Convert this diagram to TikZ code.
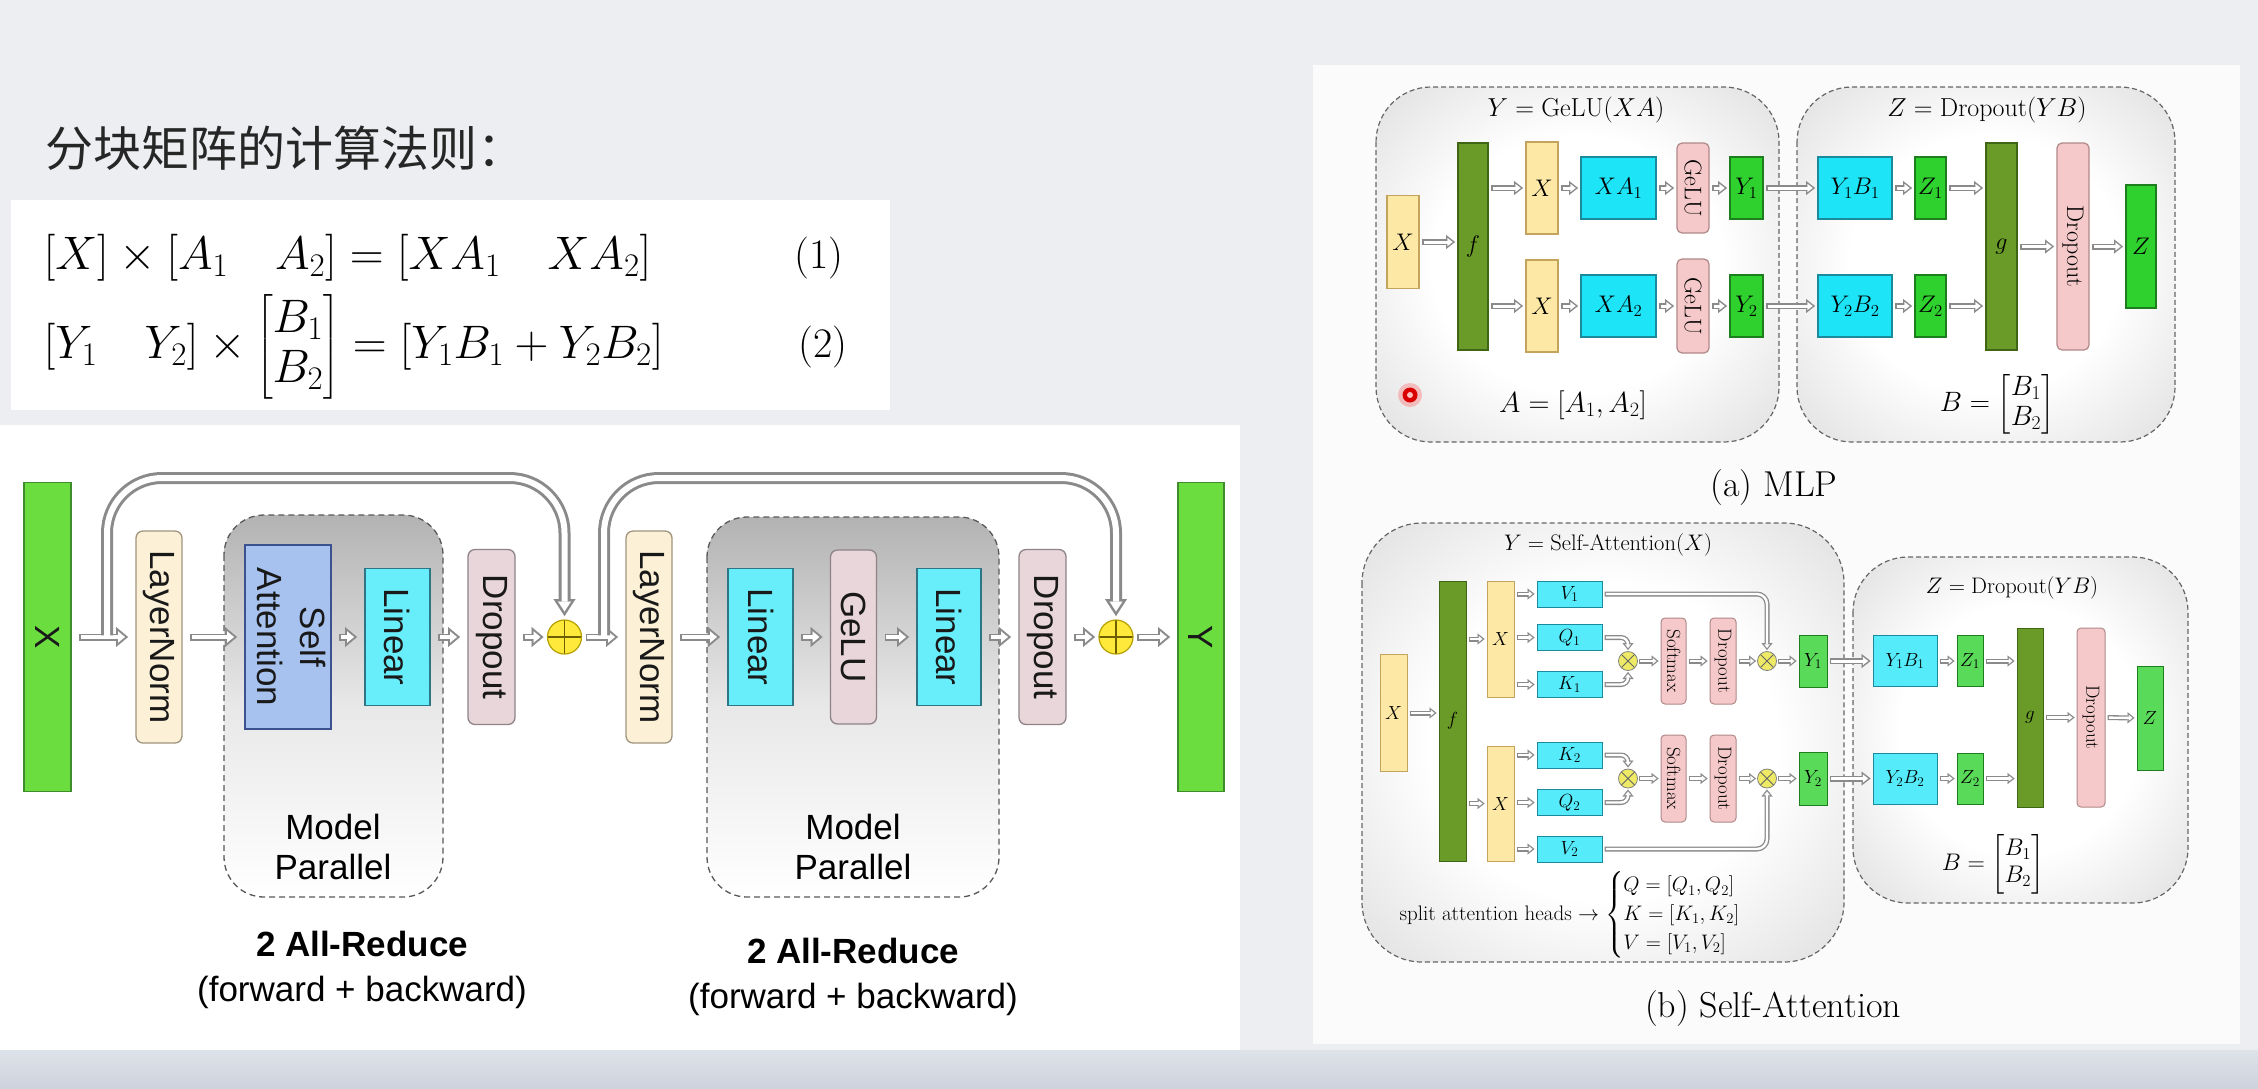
\documentclass[tikz,border=0pt]{standalone}
\usepackage{fix-cm}
\usepackage{amsmath}
\usepackage{fontspec}
\setsansfont{Liberation Sans}
\newfontfamily\cjk{Noto Sans CJK SC}
\usetikzlibrary{positioning, calc, arrows.meta}

\newcommand\fs[2]{\fontsize{#1}{#2}\selectfont}
\newcommand\vtext[1]{\rotatebox{-90}{#1}}

% colours
\definecolor{slidebg}{HTML}{ECEEF1}
\definecolor{stripA}{HTML}{DEE2E9}
\definecolor{stripB}{HTML}{CDD3DD}
\definecolor{panel}{HTML}{FBFBFB}
\definecolor{arrgray}{HTML}{8A8A8A}
\definecolor{xgreen}{HTML}{6CDD3E}
\definecolor{xgreenD}{HTML}{3E8C2C}
\definecolor{lncream}{HTML}{FCF1D6}
\definecolor{lnD}{HTML}{A0947E}
\definecolor{sablue}{HTML}{A7C2EF}
\definecolor{sabD}{HTML}{3C5290}
\definecolor{lincyan}{HTML}{68EEFA}
\definecolor{linD}{HTML}{2C7686}
\definecolor{droppink}{HTML}{E9D6DA}
\definecolor{dropD}{HTML}{8E8488}
\definecolor{addY}{HTML}{FFEA3C}
\definecolor{addD}{HTML}{B59F00}
\definecolor{myel}{HTML}{FDE8A6}
\definecolor{myelD}{HTML}{C4A45C}
\definecolor{molive}{HTML}{6A9B28}
\definecolor{moliveD}{HTML}{3F6614}
\definecolor{mcyan}{HTML}{1EE4F8}
\definecolor{mcyanD}{HTML}{1B8A9C}
\definecolor{mgreen}{HTML}{2FD12F}
\definecolor{mgreenD}{HTML}{1C7E1C}
\definecolor{mpink}{HTML}{F5C9C9}
\definecolor{mpinkD}{HTML}{B08888}
\definecolor{regedge}{HTML}{C6C6C6}
\definecolor{mulY}{HTML}{EEEA66}

\pgfdeclareradialshading{softbox}{\pgfpoint{0bp}{0bp}}{color(0bp)=(white); color(18bp)=(white); color(50bp)=(regedge)}

\tikzset{
  % hollow arrows
  hollowM/.style={draw=arrgray, line width=7pt,
    -{Triangle[length=12pt, width=20pt, line width=0.1pt]},
    postaction={draw=white, line width=3.5pt, shorten <=1.75pt, shorten >=3.1pt,
      -{Triangle[length=6.9pt, width=11.4pt, line width=0.1pt]}}},
  hollowS/.style={draw=arrgray, line width=6pt,
    -{Triangle[length=9pt, width=14pt, line width=0.1pt]},
    postaction={draw=white, line width=3pt, shorten <=1.5pt, shorten >=2.44pt,
      -{Triangle[length=5.1pt, width=7.9pt, line width=0.1pt]}}},
  hollowT/.style={draw=arrgray, line width=5pt,
    -{Triangle[length=7pt, width=11pt, line width=0.1pt]},
    postaction={draw=white, line width=2.4pt, shorten <=1.3pt, shorten >=2.1pt,
      -{Triangle[length=3.6pt, width=5.7pt, line width=0.1pt]}}},
  skip/.style={draw=arrgray, line width=12pt, rounded corners=55pt,
    -{Triangle[length=17pt, width=22pt, line width=0.1pt]},
    postaction={draw=white, line width=6pt, shorten <=-1pt, shorten >=4.6pt,
      -{Triangle[length=9.9pt, width=12.8pt, line width=0.1pt]}}},
  sz/.style 2 args={minimum width=#1pt, minimum height=#2pt},
  % transformer layer blocks
  blk/.style={draw, line width=1.3pt, inner sep=0pt, outer sep=8pt, text=black!90,
    font=\sffamily\fs{35}{43}},
  gbar/.style={blk, fill=xgreen, draw=xgreenD},
  lnorm/.style={blk, fill=lncream, draw=lnD, rounded corners=7pt},
  attn/.style={blk, fill=sablue, draw=sabD},
  linr/.style={blk, fill=lincyan, draw=linD},
  drop/.style={blk, fill=droppink, draw=dropD, rounded corners=7pt},
  addnode/.style={circle, draw=addD, fill=addY, line width=1.2pt, minimum size=34pt,
    inner sep=0pt, outer sep=4pt,
    path picture={\draw[addD!60!black, line width=1.4pt]
      (path picture bounding box.north) -- (path picture bounding box.south)
      (path picture bounding box.west) -- (path picture bounding box.east);}},
  mpar/.style={draw=black!65, line width=1.3pt, dash pattern=on 6pt off 4pt,
    rounded corners=40pt, top color=black!30, bottom color=white, middle color=black!9},
  % MLP blocks
  mb/.style={draw, line width=1.2pt, inner sep=0pt, outer sep=3pt, font=\fs{24}{28}},
  myb/.style={mb, fill=myel, draw=myelD},
  mob/.style={mb, fill=molive, draw=moliveD},
  mcb/.style={mb, fill=mcyan, draw=mcyanD},
  mgb/.style={mb, fill=mgreen, draw=mgreenD},
  mpb/.style={mb, fill=mpink, draw=mpinkD, rounded corners=5pt},
  region/.style={draw=black!60, line width=1.2pt, dash pattern=on 5pt off 3pt,
    rounded corners=55pt, shade, shading=softbox},
  % self-attention blocks
  sb/.style={draw, line width=1pt, inner sep=0pt, outer sep=2.5pt, font=\fs{19}{22}},
  syb/.style={sb, fill=myel, draw=myelD},
  sob/.style={sb, fill=molive, draw=moliveD},
  scb/.style={sb, fill=mcyan!75!white, draw=mcyanD},
  sgb/.style={sb, fill=mgreen!80!white, draw=mgreenD},
  spb/.style={sb, fill=mpink, draw=mpinkD, rounded corners=4pt},
  mulnode/.style={circle, draw=black!50, fill=mulY, line width=0.8pt, minimum size=19pt,
    inner sep=0pt, outer sep=1.5pt,
    path picture={\draw[black!60, line width=0.9pt]
      (path picture bounding box.north west) -- (path picture bounding box.south east)
      (path picture bounding box.north east) -- (path picture bounding box.south west);}},
}

\begin{document}
\begin{tikzpicture}[x=1pt, y=-1pt]

    % Slide background and panels
    \fill[slidebg] (0,0) rectangle (2258,1088);
    \shade[top color=stripA, bottom color=stripB] (0,1050) rectangle (2258,1088);
    \fill[white] (11,200) rectangle (890,410);
    \fill[white] (0,425) rectangle (1240,1050);
    \fill[panel] (1313,65) rectangle (2240,1044);

    % Title
    \node[anchor=west, font=\cjk\fs{48}{56}, text=black!85] (title) at (42,148) {分块矩阵的计算法则：};

    % Block matrix rules
    \node[anchor=west, font=\fs{47}{50}] (eqA) at (40,258)
        {$[X]\times[A_1\quad A_2]=[XA_1\quad XA_2]$};
    \node[font=\fs{42}{50}] (numA) at (819,258) {(1)};
    \node[anchor=west, font=\fs{47}{50}] (eqB) at (40,347)
        {$[Y_1\quad Y_2]\times\begin{bmatrix}B_1\\ B_2\end{bmatrix}=[Y_1B_1+Y_2B_2]$};
    \node[font=\fs{42}{50}] (numB) at (823,347) {(2)};

    % Model parallel groups
    \path[mpar] (224,515) rectangle (443,897);
    \path[mpar] (707,517) rectangle (999,897);
    \node[font=\sffamily\fs{35}{40}, align=center] (mpA) at (333,847) {Model\\Parallel};
    \node[font=\sffamily\fs{35}{40}, align=center] (mpB) at (853,847) {Model\\Parallel};

    % Transformer layer
    \node[gbar, sz={47}{309}] (Xin) at (47.5,637) {\vtext{X}};
    \node[lnorm, sz={46}{212}] (LN1) at (159,637) {\vtext{LayerNorm}};
    \node[attn, sz={80}{184}] (SA) at (288,637) {\vtext{\begin{tabular}{@{}c@{}}Self\\Attention\end{tabular}}};
    \node[linr, sz={65}{137}] (LinA) at (397.5,637) {\vtext{Linear}};
    \node[drop, sz={47}{175}] (DrA) at (491.5,637) {\vtext{Dropout}};
    \node[addnode] (AddA) at (564.5,637) {};
    \node[lnorm, sz={46}{212}] (LN2) at (649,637) {\vtext{LayerNorm}};
    \node[linr, sz={65}{137}] (LinB) at (760.5,637) {\vtext{Linear}};
    \node[drop, sz={46}{174}] (Gelu) at (853.5,637) {\vtext{GeLU}};
    \node[linr, sz={64}{137}] (LinC) at (949,637) {\vtext{Linear}};
    \node[drop, sz={47}{175}] (DrB) at (1042.5,637) {\vtext{Dropout}};
    \node[addnode] (AddB) at (1116,637) {};
    \node[gbar, sz={46}{309}] (Yout) at (1201,637) {\vtext{Y}};

    \draw[hollowM] (Xin) -- (LN1);
    \draw[hollowM] (LN1) -- (SA);
    \draw[hollowM] (SA) -- (LinA);
    \draw[hollowM] (LinA) -- (DrA);
    \draw[hollowM] (DrA) -- (AddA);
    \draw[hollowM] (AddA) -- (LN2);
    \draw[hollowM] (LN2) -- (LinB);
    \draw[hollowM] (LinB) -- (Gelu);
    \draw[hollowM] (Gelu) -- (LinC);
    \draw[hollowM] (LinC) -- (DrB);
    \draw[hollowM] (DrB) -- (AddB);
    \draw[hollowM] (AddB) -- (Yout);

    % Residual connections
    \coordinate (tapA) at (107,635.25);
    \coordinate (topA) at (107,478);
    \coordinate (tapB) at (604,635.25);
    \coordinate (topB) at (604,478);
    \draw[skip] (tapA) -- (topA) -| (AddA.north);
    \draw[skip] (tapB) -- (topB) -| (AddB.north);

    \node[font=\sffamily\fs{35}{45}, align=center] (arA) at (362,970) {\textbf{2 All-Reduce}\\(forward + backward)};
    \node[font=\sffamily\fs{35}{45}, align=center] (arB) at (853,977) {\textbf{2 All-Reduce}\\(forward + backward)};

    % (a) MLP
    \path[region] (1376,87) rectangle (1779,442);
    \path[region] (1797,87) rectangle (2175,442);
    \node[font=\fs{26}{30}] (mlpY) at (1576,110) {$Y=\mathrm{GeLU}(XA)$};
    \node[font=\fs{26}{30}] (mlpZ) at (1987,110) {$Z=\mathrm{Dropout}(YB)$};

    \node[myb, sz={32}{93}] (MX) at (1403,242) {$X$};
    \node[mob, sz={30}{207}] (Mf) at (1473,246.5) {$f$};
    \node[myb, sz={32}{92}] (MXa) at (1542,188) {$X$};
    \node[myb, sz={32}{92}] (MXb) at (1542,306) {$X$};
    \node[mcb, sz={75}{62}] (MXA1) at (1618.5,188) {$XA_1$};
    \node[mcb, sz={75}{62}] (MXA2) at (1618.5,306) {$XA_2$};
    \node[mpb, sz={32}{90}] (MG1) at (1693,188) {\vtext{GeLU}};
    \node[mpb, sz={32}{94}] (MG2) at (1693,306) {\vtext{GeLU}};
    \node[mgb, sz={33}{62}] (MY1) at (1746.5,188) {$Y_1$};
    \node[mgb, sz={33}{62}] (MY2) at (1746.5,306) {$Y_2$};
    \node[mcb, sz={74}{62}] (MYB1) at (1855,188) {$Y_1B_1$};
    \node[mcb, sz={74}{62}] (MYB2) at (1855,306) {$Y_2B_2$};
    \node[mgb, sz={31}{62}] (MZ1) at (1930.5,188) {$Z_1$};
    \node[mgb, sz={31}{62}] (MZ2) at (1930.5,306) {$Z_2$};
    \node[mob, sz={31}{207}] (Mg) at (2001.5,246.5) {$g$};
    \node[mpb, sz={32}{207}] (MD) at (2073,246.5) {\vtext{Dropout}};
    \node[mgb, sz={30}{123}] (MZ) at (2141,246.5) {$Z$};

    \draw[hollowS] (MX.east) -- (MX.east -| Mf.west);
    \draw[hollowS] (Mf.east |- MXa) -- (MXa);
    \draw[hollowS] (Mf.east |- MXb) -- (MXb);
    \draw[hollowS] (MXa) -- (MXA1);
    \draw[hollowS] (MXb) -- (MXA2);
    \draw[hollowS] (MXA1) -- (MG1);
    \draw[hollowS] (MXA2) -- (MG2);
    \draw[hollowS] (MG1) -- (MY1);
    \draw[hollowS] (MG2) -- (MY2);
    \draw[hollowS] (MY1) -- (MYB1);
    \draw[hollowS] (MY2) -- (MYB2);
    \draw[hollowS] (MYB1) -- (MZ1);
    \draw[hollowS] (MYB2) -- (MZ2);
    \draw[hollowS] (MZ1.east) -- (MZ1.east -| Mg.west);
    \draw[hollowS] (MZ2.east) -- (MZ2.east -| Mg.west);
    \draw[hollowS] (Mg) -- (MD);
    \draw[hollowS] (MD) -- (MZ);

    \node[font=\fs{29}{33}] (mlpA) at (1573,405) {$A=[A_1,A_2]$};
    \node[font=\fs{28}{30}] (mlpB) at (1997,404) {$B=\begin{bmatrix}B_1\\ B_2\end{bmatrix}$};
    \node[font=\fs{36}{40}] (capA) at (1774,488) {(a) MLP};

    % laser pointer
    \fill[red!70, opacity=0.3] (1410,395) circle (12);
    \fill[red!85!black] (1410,395) circle (7.5);
    \fill[red!25] (1410,395) circle (3);

    % (b) Self-Attention
    \path[region, rounded corners=60pt] (1362,523) rectangle (1844,962);
    \path[region] (1853,557) rectangle (2188,903);
    \node[font=\fs{22.5}{27}] (saY) at (1608,545) {$Y=\text{Self-Attention}(X)$};
    \node[font=\fs{22.5}{27}] (saZ) at (2012,588) {$Z=\mathrm{Dropout}(YB)$};

    \node[syb, sz={27}{117}] (SX) at (1393.5,713) {$X$};
    \node[sob, sz={27}{280}] (Sf) at (1452.5,721) {$f$};
    \node[syb, sz={27}{116}] (SXa) at (1500.5,639) {$X$};
    \node[syb, sz={27}{115}] (SXb) at (1500.5,803.5) {$X$};
    \node[scb, sz={65}{26}] (V1) at (1569.5,594) {$V_1$};
    \node[scb, sz={65}{26}] (Q1) at (1569.5,637.5) {$Q_1$};
    \node[scb, sz={65}{26}] (K1) at (1569.5,684.5) {$K_1$};
    \node[scb, sz={65}{26}] (K2) at (1569.5,755) {$K_2$};
    \node[scb, sz={65}{26}] (Q2) at (1569.5,802.5) {$Q_2$};
    \node[scb, sz={65}{26}] (V2) at (1569.5,849) {$V_2$};
    \node[mulnode] (QK1) at (1628,661) {};
    \node[spb, sz={25}{86}] (SM1) at (1673.5,661) {\vtext{Softmax}};
    \node[spb, sz={26}{86}] (SD1) at (1723,661) {\vtext{Dropout}};
    \node[mulnode] (AV1) at (1767,661) {};
    \node[sgb, sz={28}{52}] (SY1) at (1813,661) {$Y_1$};
    \node[mulnode] (QK2) at (1628,778.5) {};
    \node[spb, sz={25}{87}] (SM2) at (1673.5,778.5) {\vtext{Softmax}};
    \node[spb, sz={26}{87}] (SD2) at (1723,778.5) {\vtext{Dropout}};
    \node[mulnode] (AV2) at (1767,778.5) {};
    \node[sgb, sz={28}{53}] (SY2) at (1813,778.5) {$Y_2$};
    \node[scb, sz={64}{51}] (SYB1) at (1905,661) {$Y_1B_1$};
    \node[sgb, sz={26}{51}] (SZ1) at (1970,661) {$Z_1$};
    \node[scb, sz={64}{51}] (SYB2) at (1905,778.5) {$Y_2B_2$};
    \node[sgb, sz={26}{51}] (SZ2) at (1970,778.5) {$Z_2$};
    \node[sob, sz={26}{179}] (Sg) at (2030,717.5) {$g$};
    \node[spb, sz={28}{179}] (SD) at (2091,717.5) {\vtext{Dropout}};
    \node[sgb, sz={26}{104}] (SZ) at (2150,718) {$Z$};

    \draw[hollowT] (SX.east) -- (SX.east -| Sf.west);
    \draw[hollowT] (Sf.east |- SXa) -- (SXa);
    \draw[hollowT] (Sf.east |- SXb) -- (SXb);
    \draw[hollowT] (SXa.east |- V1) -- (V1);
    \draw[hollowT] (SXa.east |- Q1) -- (Q1);
    \draw[hollowT] (SXa.east |- K1) -- (K1);
    \draw[hollowT] (SXb.east |- K2) -- (K2);
    \draw[hollowT] (SXb.east |- Q2) -- (Q2);
    \draw[hollowT] (SXb.east |- V2) -- (V2);
    \draw[hollowT, rounded corners=7pt] (Q1.east) -| (QK1.north);
    \draw[hollowT, rounded corners=7pt] (K1.east) -| (QK1.south);
    \draw[hollowT, rounded corners=7pt] (K2.east) -| (QK2.north);
    \draw[hollowT, rounded corners=7pt] (Q2.east) -| (QK2.south);
    \draw[hollowT, rounded corners=10pt] (V1.east) -| (AV1.north);
    \draw[hollowT, rounded corners=10pt] (V2.east) -| (AV2.south);
    \draw[hollowT] (QK1) -- (SM1);
    \draw[hollowT] (SM1) -- (SD1);
    \draw[hollowT] (SD1) -- (AV1);
    \draw[hollowT] (AV1) -- (SY1);
    \draw[hollowT] (QK2) -- (SM2);
    \draw[hollowT] (SM2) -- (SD2);
    \draw[hollowT] (SD2) -- (AV2);
    \draw[hollowT] (AV2) -- (SY2);
    \draw[hollowS] (SY1) -- (SYB1);
    \draw[hollowS] (SY2) -- (SYB2);
    \draw[hollowT] (SYB1) -- (SZ1);
    \draw[hollowT] (SYB2) -- (SZ2);
    \draw[hollowT] (SZ1.east) -- (SZ1.east -| Sg.west);
    \draw[hollowT] (SZ2.east) -- (SZ2.east -| Sg.west);
    \draw[hollowT] (Sg) -- (SD);
    \draw[hollowT] (SD) -- (SZ);

    \node[anchor=west, font=\fs{21}{24}] (heads) at (1396,915)
        {split attention heads $\rightarrow\begin{cases}Q=[Q_1,Q_2]\\ K=[K_1,K_2]\\ V=[V_1,V_2]\end{cases}$};
    \node[font=\fs{24}{27}] (saB) at (1993,864) {$B=\begin{bmatrix}B_1\\ B_2\end{bmatrix}$};
    \node[font=\fs{36}{40}] (capB) at (1773,1008) {(b) Self-Attention};

\end{tikzpicture}
\end{document}
